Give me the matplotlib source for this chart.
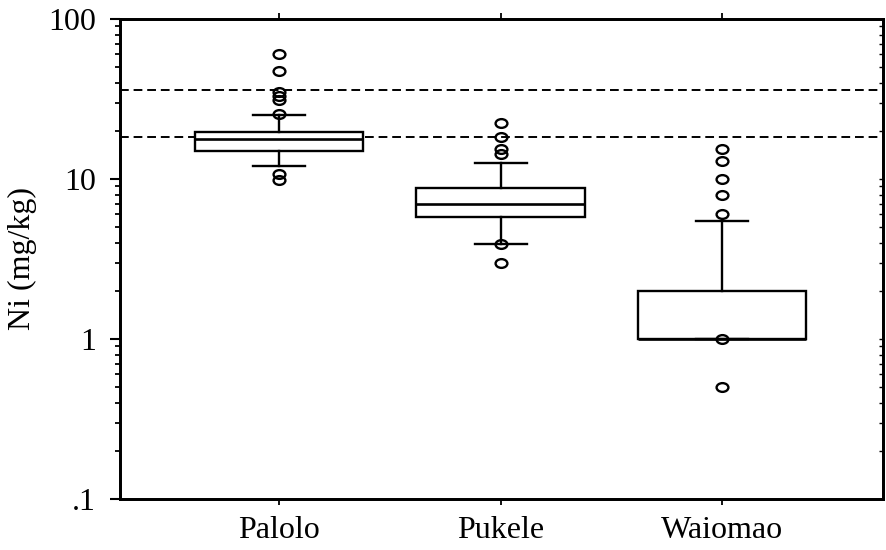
import matplotlib
matplotlib.use("Agg")
import matplotlib.pyplot as plt
from matplotlib.path import Path
from matplotlib.transforms import Affine2D
from matplotlib.ticker import LogLocator, NullFormatter

# data (Ni, mg/kg)
sites = ["Palolo", "Pukele", "Waiomao"]
q1 = [15.0, 5.8, 1.0]
median = [17.8, 7.0, 1.0]
q3 = [19.8, 8.8, 2.0]
whisker_low = [12.0, 3.95, 1.0]
whisker_high = [25.1, 12.5, 5.5]
outliers = [
    [60, 47, 35, 33, 31, 25.4, 10.8, 9.9],
    [22.3, 18.2, 15.5, 14.3, 3.95, 3.0],
    [15.3, 13, 10, 8, 6.0, 1.0, 0.5],
]
guide_levels = [36, 18.4]
ytick_vals = [0.1, 1, 10, 100]
ytick_labels = [".1", "1", "10", "100"]

plt.rcParams["font.family"] = ["Liberation Serif", "DejaVu Serif"]
plt.rcParams["font.size"] = 23

fig = plt.figure(figsize=(8.86, 5.5), dpi=100)
ax = fig.add_axes([120 / 886, 51 / 550, 763 / 886, 480 / 550])

stats = []
for i, name in enumerate(sites):
    stats.append({
        "label": name,
        "q1": q1[i], "med": median[i], "q3": q3[i],
        "whislo": whisker_low[i], "whishi": whisker_high[i],
        "fliers": outliers[i],
    })

# slightly wide open circle, like the original markers
ellipse = Path.unit_circle().transformed(Affine2D().scale(1.35, 1.0))

line = dict(color="black", linewidth=1.7)
ax.bxp(stats, positions=[1, 2, 3], widths=0.76, capwidths=0.235,
       patch_artist=True,
       boxprops=dict(facecolor="white", edgecolor="black", linewidth=1.7, zorder=3),
       whiskerprops=dict(line, zorder=3), capprops=dict(line, zorder=3),
       medianprops=dict(color="black", linewidth=1.9, zorder=4),
       flierprops=dict(marker=ellipse, markersize=8.5, markerfacecolor="none",
                       markeredgecolor="black", markeredgewidth=1.7,
                       linestyle="none", zorder=5))

for lvl in guide_levels:
    ax.axhline(lvl, color="black", linewidth=1.4, dashes=(4.5, 2.5), zorder=1)

ax.set_yscale("log")
ax.set_ylim(0.1, 100)
ax.set_xlim(0.282, 3.726)
ax.set_yticks(ytick_vals)
ax.set_yticklabels(ytick_labels)
ax.yaxis.set_minor_locator(LogLocator(base=10, subs=range(2, 10)))
ax.yaxis.set_minor_formatter(NullFormatter())
ax.set_xticks([1, 2, 3])
ax.set_xticklabels(sites)

ax.tick_params(axis="y", which="major", direction="out", length=7.5, width=1.5, pad=10)
ax.tick_params(axis="y", which="minor", direction="out", length=3.8, width=1.3)
ax.tick_params(axis="x", which="both", direction="out", top=True, length=4.5,
               width=1.3, pad=8)
ax.set_ylabel("Ni (mg/kg)", labelpad=8)

# right side: short inward ticks only
ax2 = ax.twinx()
ax2.set_yscale("log")
ax2.set_ylim(0.1, 100)
ax2.yaxis.set_minor_locator(LogLocator(base=10, subs=range(2, 10)))
ax2.yaxis.set_minor_formatter(NullFormatter())
ax2.tick_params(axis="y", which="both", direction="in", length=3, width=1.0,
                labelright=False)

for a in (ax, ax2):
    for sp in a.spines.values():
        sp.set_linewidth(2.0)

fig.savefig("out.png", dpi=100)
